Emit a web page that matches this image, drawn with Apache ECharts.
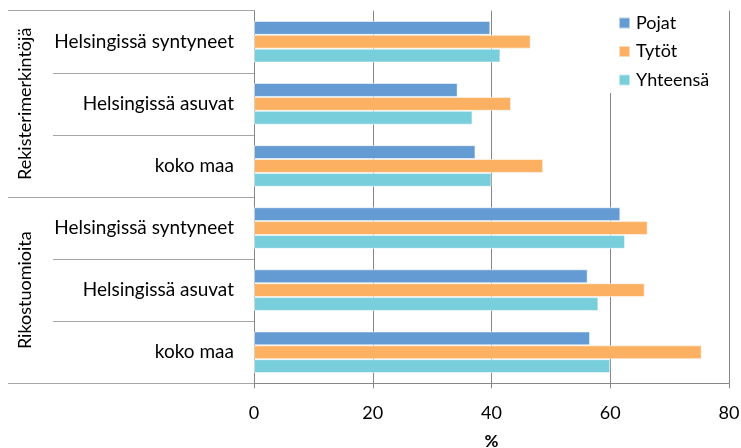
<!DOCTYPE html>
<html>
<head>
<meta charset="utf-8">
<script src="https://cdn.jsdelivr.net/npm/echarts@6/dist/echarts.min.js"></script>
<style>
  html, body { margin: 0; padding: 0; background: #fff; }
  #chart { width: 741px; height: 448px; }
</style>
</head>
<body>
<div id="chart"></div>
<script>
// Category rows, listed top to bottom
const categories = [
  'Helsingissä syntyneet', 'Helsingissä asuvat', 'koko maa',
  'Helsingissä syntyneet', 'Helsingissä asuvat', 'koko maa'
];
// Outer grouping of the rows (three rows each)
const groups = ['Rekisterimerkintöjä', 'Rikostuomioita'];

// Shares in percent
const pojat    = [39.8, 34.3, 37.3, 61.7, 56.2, 56.6];
const tytot    = [46.6, 43.3, 48.7, 66.3, 65.8, 75.4];
const yhteensa = [41.5, 36.8, 40.0, 62.5, 58.0, 60.0];

const xTicks = { min: 0, max: 80, interval: 20 };

const FONT = 'Lato';
const FS = 18;
const chart = echarts.init(document.getElementById('chart'), null, { renderer: 'canvas' });

const barStyle = (color) => ({
  color: color,
  borderColor: 'rgba(255,255,255,0.55)',
  borderWidth: 1
});

chart.setOption({
  animation: false,
  textStyle: { fontFamily: FONT },
  grid: {
    left: 254, right: 12, top: 10.7, bottom: 64.7,
    containLabel: false,
    outerBoundsMode: 'none'
  },
  legend: {
    orient: 'vertical',
    left: 600,
    top: 0,
    padding: [13, 12, 3, 18],
    backgroundColor: '#fff',
    itemWidth: 11,
    itemHeight: 11,
    itemGap: 8.5,
    icon: 'rect',
    textStyle: { fontFamily: FONT, fontSize: FS, color: '#000', lineHeight: 20, padding: [0, 0, 0, 1] },
    data: ['Pojat', 'Tytöt', 'Yhteensä']
  },
  xAxis: {
    type: 'value',
    min: xTicks.min,
    max: xTicks.max,
    interval: xTicks.interval,
    name: '%',
    nameLocation: 'middle',
    nameGap: 50,
    nameTextStyle: { fontFamily: FONT, fontSize: FS - 1, fontWeight: 'bold', color: '#000' },
    axisLine: { show: true, lineStyle: { color: '#868686', width: 1 } },
    axisTick: { show: true, length: 5, lineStyle: { color: '#868686' } },
    axisLabel: { fontFamily: FONT, fontSize: FS, color: '#000', margin: 21 },
    splitLine: { show: true, lineStyle: { color: '#868686', width: 1 } }
  },
  yAxis: [
    {
      type: 'category',
      data: categories,
      inverse: true,
      position: 'left',
      axisLine: { show: true, lineStyle: { color: '#868686', width: 1 } },
      axisTick: { show: true, interval: 0, length: 201, lineStyle: { color: '#a6a6a6' } },
      axisLabel: { interval: 0, fontFamily: FONT, fontSize: 19, color: '#000', margin: 20 },
      splitLine: { show: false }
    },
    {
      type: 'category',
      data: groups,
      inverse: true,
      position: 'left',
      axisLine: { show: false },
      axisTick: { show: true, interval: 0, length: 246, lineStyle: { color: '#a6a6a6' } },
      axisLabel: { interval: 0, rotate: 90, fontFamily: FONT, fontSize: FS, color: '#000', margin: 220 },
      splitLine: { show: false }
    }
  ],
  series: [
    { name: 'Pojat', type: 'bar', yAxisIndex: 0, data: pojat, barGap: '0%', barCategoryGap: '33%', itemStyle: barStyle('#659bd3') },
    { name: 'Tytöt', type: 'bar', yAxisIndex: 0, data: tytot, barGap: '0%', barCategoryGap: '33%', itemStyle: barStyle('#fcb062') },
    { name: 'Yhteensä', type: 'bar', yAxisIndex: 0, data: yhteensa, barGap: '0%', barCategoryGap: '33%', itemStyle: barStyle('#79cedb') }
  ]
});
</script>
</body>
</html>
